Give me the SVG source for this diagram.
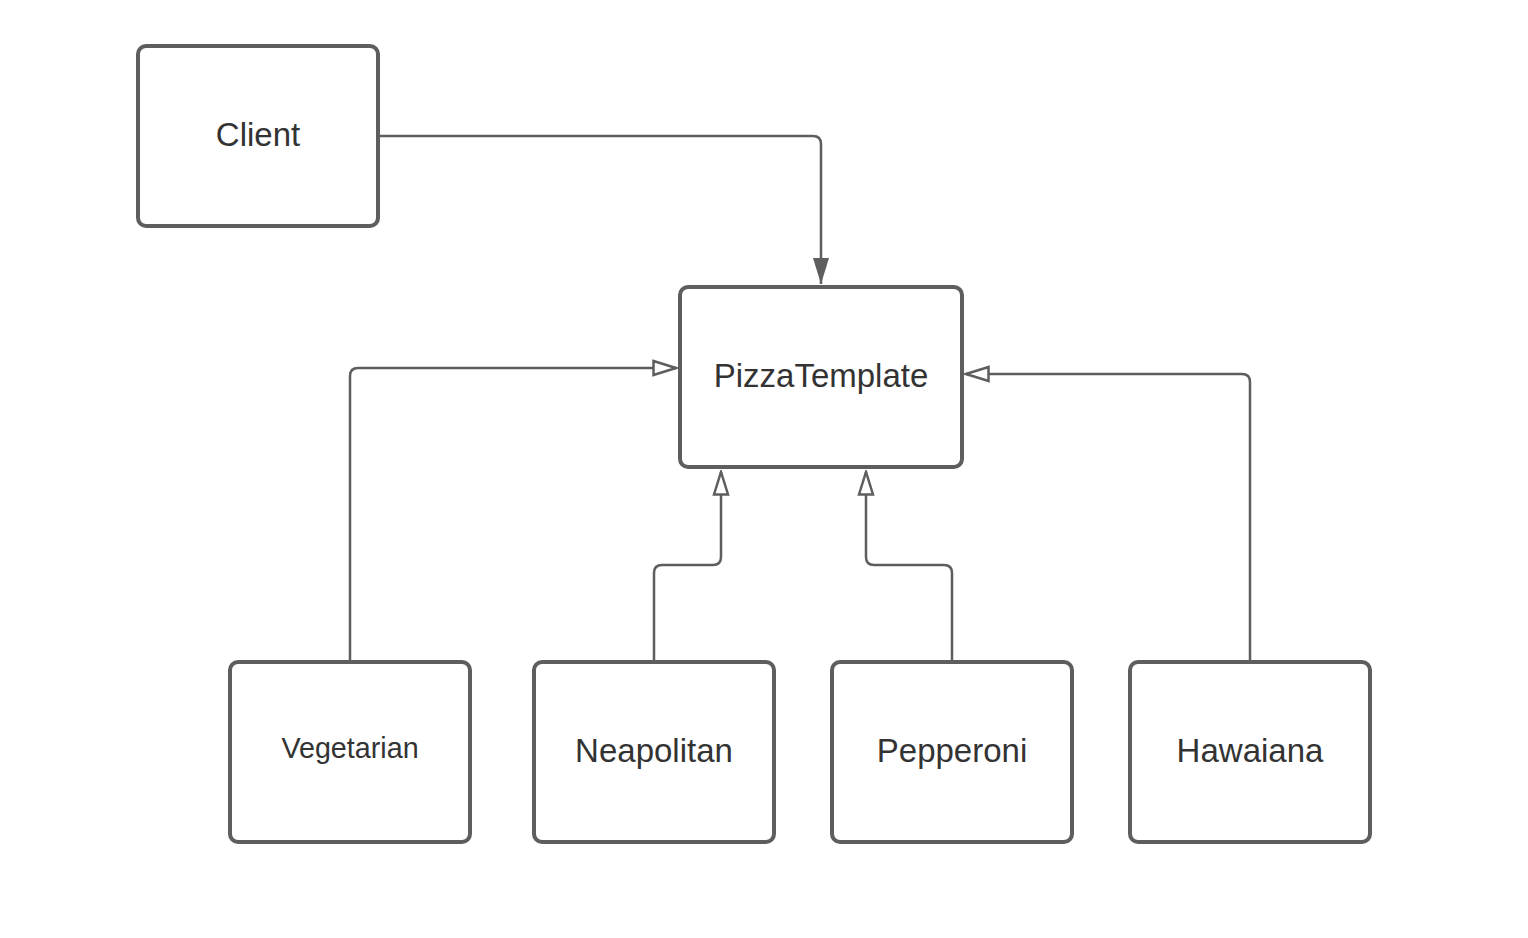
<svg xmlns="http://www.w3.org/2000/svg" width="1528" height="938" viewBox="0 0 1528 938">
<style>
.box{fill:#fff;stroke:#5e5e5e;stroke-width:4}
.lbl{font-family:"Liberation Sans",Arial,sans-serif;font-size:33px;fill:#333;text-anchor:middle}
.edge{fill:none;stroke:#5e5e5e;stroke-width:2.5}
</style>
<defs>
<marker id="filled" viewBox="0 0 26 18" markerWidth="26" markerHeight="18" refX="26" refY="9" orient="auto" markerUnits="userSpaceOnUse">
<path d="M0,1 L26,9 L0,17 Z" fill="#5e5e5e"/>
</marker>
<marker id="hollow" viewBox="0 0 26 18" markerWidth="26" markerHeight="18" refX="24" refY="9" orient="auto" markerUnits="userSpaceOnUse">
<path d="M1.5,2 L24,9 L1.5,16 Z" fill="#fff" stroke="#5e5e5e" stroke-width="2.5"/>
</marker>
</defs>
<rect width="1528" height="938" fill="#fff"/>
<g id="connectors">
<path class="edge" d="M380,136 H813 Q821,136 821,144 V284" marker-end="url(#filled)"/>
<path class="edge" d="M350,660 V376 Q350,368 358,368 H676" marker-end="url(#hollow)"/>
<path class="edge" d="M654,660 V573 Q654,565 662,565 H713 Q721,565 721,557 V472" marker-end="url(#hollow)"/>
<path class="edge" d="M952,660 V573 Q952,565 944,565 H874 Q866,565 866,557 V472" marker-end="url(#hollow)"/>
<path class="edge" d="M1250,660 V382 Q1250,374 1242,374 H966" marker-end="url(#hollow)"/>
</g>
<g id="client"><rect class="box" x="138" y="46" width="240" height="180" rx="8"/><text class="lbl" x="258" y="146">Client</text></g>
<g id="pizzatemplate"><rect class="box" x="680" y="287" width="282" height="180" rx="8"/><text class="lbl" x="821" y="387">PizzaTemplate</text></g>
<g id="vegetarian"><rect class="box" x="230" y="662" width="240" height="180" rx="8"/><text class="lbl" x="350" y="758" style="font-size:28.7px">Vegetarian</text></g>
<g id="neapolitan"><rect class="box" x="534" y="662" width="240" height="180" rx="8"/><text class="lbl" x="654" y="762">Neapolitan</text></g>
<g id="pepperoni"><rect class="box" x="832" y="662" width="240" height="180" rx="8"/><text class="lbl" x="952" y="762">Pepperoni</text></g>
<g id="hawaiana"><rect class="box" x="1130" y="662" width="240" height="180" rx="8"/><text class="lbl" x="1250" y="762">Hawaiana</text></g>
</svg>
